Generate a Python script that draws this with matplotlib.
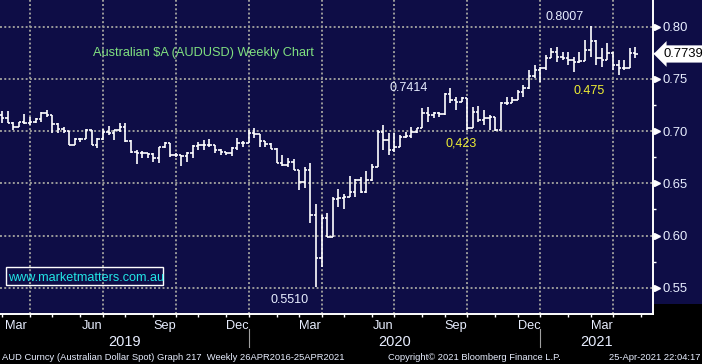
import numpy as np
import pandas as pd
import matplotlib
matplotlib.use('Agg')
import matplotlib.pyplot as plt
import matplotlib.dates as mdates
import matplotlib.transforms as mtransforms
from matplotlib.patches import Rectangle

# AUDUSD weekly bars, first bar = week ending 22 Feb 2019
open_px = [0.7150, 0.7122, 0.7080, 0.7036, 0.7084, 0.7075, 0.7090, 0.7113, 0.7176, 0.7154,
           0.7068, 0.7017, 0.7004, 0.6867, 0.6921, 0.6921, 0.7010, 0.6867, 0.6921, 0.6994,
           0.6979, 0.7010, 0.7036, 0.6908, 0.6803, 0.6793, 0.6787, 0.6781, 0.6740, 0.6845,
           0.6883, 0.6771, 0.6771, 0.6762, 0.6787, 0.6857, 0.6867, 0.6867, 0.6865, 0.6819,
           0.6803, 0.6793, 0.6835, 0.6890, 0.6889, 0.6979, 0.6972, 0.6908, 0.6876, 0.6826,
           0.6691, 0.6675, 0.6707, 0.6627, 0.6515, 0.6627, 0.6196, 0.5782, 0.6165, 0.5988,
           0.6350, 0.6357, 0.6372, 0.6420, 0.6532, 0.6420, 0.6532, 0.6659, 0.6994, 0.6915,
           0.6819, 0.6851, 0.6946, 0.6953, 0.6994, 0.7027, 0.7170, 0.7154, 0.7170, 0.7161,
           0.7352, 0.7298, 0.7282, 0.7314, 0.7027, 0.7186, 0.7106, 0.7122, 0.7138, 0.7011,
           0.7266, 0.7272, 0.7298, 0.7378, 0.7410, 0.7528, 0.7585, 0.7601, 0.7697, 0.7761,
           0.7713, 0.7697, 0.7681, 0.7665, 0.7674, 0.7777, 0.7866, 0.7697, 0.7681, 0.7745,
           0.7633, 0.7601, 0.7601, 0.7745]
high_px = [0.7195, 0.7195, 0.7090, 0.7090, 0.7164, 0.7138, 0.7122, 0.7186, 0.7202, 0.7154,
           0.7075, 0.7042, 0.7005, 0.6931, 0.6931, 0.7017, 0.7010, 0.6931, 0.7017, 0.7049,
           0.7010, 0.7075, 0.7075, 0.6915, 0.6819, 0.6812, 0.6793, 0.6787, 0.6851, 0.6898,
           0.6889, 0.6787, 0.6771, 0.6803, 0.6867, 0.6898, 0.6915, 0.6921, 0.6867, 0.6826,
           0.6803, 0.6851, 0.6931, 0.6908, 0.7010, 0.7027, 0.6975, 0.6910, 0.6883, 0.6835,
           0.6771, 0.6740, 0.6730, 0.6627, 0.6659, 0.6691, 0.6302, 0.6196, 0.6213, 0.6372,
           0.6442, 0.6398, 0.6570, 0.6538, 0.6557, 0.6618, 0.6685, 0.7010, 0.7058, 0.6979,
           0.6979, 0.6963, 0.6994, 0.7042, 0.7027, 0.7218, 0.7234, 0.7186, 0.7186, 0.7362,
           0.7414, 0.7330, 0.7330, 0.7314, 0.7234, 0.7240, 0.7202, 0.7154, 0.7138, 0.7282,
           0.7330, 0.7330, 0.7394, 0.7442, 0.7585, 0.7633, 0.7617, 0.7729, 0.7793, 0.7808,
           0.7761, 0.7761, 0.7713, 0.7761, 0.7873, 0.8007, 0.7870, 0.7793, 0.7841, 0.7761,
           0.7681, 0.7681, 0.7793, 0.7808]
low_px = [0.7075, 0.7075, 0.7010, 0.7036, 0.7065, 0.7058, 0.7075, 0.7090, 0.7138, 0.6985,
          0.6985, 0.6979, 0.6867, 0.6865, 0.6893, 0.6921, 0.6867, 0.6835, 0.6915, 0.6963,
          0.6915, 0.6994, 0.6898, 0.6787, 0.6685, 0.6740, 0.6740, 0.6707, 0.6691, 0.6835,
          0.6755, 0.6755, 0.6666, 0.6707, 0.6740, 0.6819, 0.6819, 0.6851, 0.6787, 0.6771,
          0.6771, 0.6762, 0.6819, 0.6851, 0.6889, 0.6931, 0.6851, 0.6851, 0.6826, 0.6691,
          0.6666, 0.6659, 0.6627, 0.6436, 0.6452, 0.6123, 0.5510, 0.5701, 0.5983, 0.5988,
          0.6270, 0.6251, 0.6370, 0.6372, 0.6404, 0.6410, 0.6525, 0.6653, 0.6819, 0.6771,
          0.6803, 0.6851, 0.6931, 0.6931, 0.6979, 0.7027, 0.7090, 0.7122, 0.7138, 0.7154,
          0.7266, 0.7202, 0.7282, 0.7011, 0.7027, 0.7090, 0.7058, 0.7011, 0.7004, 0.7011,
          0.7250, 0.7266, 0.7295, 0.7330, 0.7405, 0.7506, 0.7473, 0.7585, 0.7697, 0.7665,
          0.7681, 0.7633, 0.7569, 0.7649, 0.7670, 0.7713, 0.7633, 0.7617, 0.7681, 0.7585,
          0.7537, 0.7585, 0.7601, 0.7697]
close_px = [0.7122, 0.7080, 0.7036, 0.7084, 0.7075, 0.7090, 0.7113, 0.7176, 0.7154, 0.7068,
            0.7017, 0.7004, 0.6867, 0.6921, 0.6921, 0.7010, 0.6867, 0.6921, 0.6994, 0.6979,
            0.7010, 0.7036, 0.6908, 0.6803, 0.6793, 0.6787, 0.6781, 0.6740, 0.6845, 0.6883,
            0.6771, 0.6771, 0.6762, 0.6787, 0.6857, 0.6867, 0.6867, 0.6865, 0.6819, 0.6803,
            0.6793, 0.6835, 0.6890, 0.6889, 0.6979, 0.6972, 0.6908, 0.6876, 0.6826, 0.6691,
            0.6675, 0.6707, 0.6627, 0.6515, 0.6627, 0.6196, 0.5782, 0.6165, 0.5988, 0.6350,
            0.6357, 0.6372, 0.6420, 0.6532, 0.6420, 0.6532, 0.6659, 0.6994, 0.6915, 0.6819,
            0.6851, 0.6946, 0.6953, 0.6994, 0.7027, 0.7170, 0.7154, 0.7170, 0.7161, 0.7352,
            0.7298, 0.7282, 0.7314, 0.7027, 0.7186, 0.7106, 0.7122, 0.7138, 0.7011, 0.7266,
            0.7272, 0.7298, 0.7378, 0.7410, 0.7528, 0.7585, 0.7601, 0.7697, 0.7761, 0.7713,
            0.7697, 0.7681, 0.7665, 0.7674, 0.7777, 0.7866, 0.7697, 0.7681, 0.7745, 0.7633,
            0.7601, 0.7601, 0.7745, 0.7739]

y_ticks = [0.55, 0.60, 0.65, 0.70, 0.75, 0.80]
y_labels = ['0.55', '0.60', '0.65', '0.70', '0.75', '0.80']
y_minor = [0.575, 0.625, 0.675, 0.725, 0.775]
month_names = {3: 'Mar', 6: 'Jun', 9: 'Sep', 12: 'Dec'}
years = ['2019', '2020', '2021']
last_price = 0.7739

NAVY = '#0e0d46'
TXT = '#e8eeff'
plt.rcParams['font.family'] = ['Liberation Sans', 'DejaVu Sans']

weeks = pd.date_range(end='2021-04-23', periods=len(close_px), freq='W-FRI')
x = mdates.date2num(weeks)

x_left = pd.Timestamp('2019-02-19 12:00')
x_right = x_left + pd.Timedelta(days=815.4)

# month marks sit on the last weekly bar of each month
fridays = pd.date_range('2019-01-04', '2021-06-25', freq='W-FRI')
month_end = fridays[fridays.month != (fridays + pd.Timedelta(days=7)).month]
quarter_end = month_end[month_end.month.isin([3, 6, 9, 12])]
in_view = lambda d: d[(d >= x_left) & (d <= x_right)]

fig = plt.figure(figsize=(7.02, 3.64), dpi=100, facecolor='black')
fig.add_artist(Rectangle((0.93, 60/364), 0.07, 304/364, transform=fig.transFigure,
                         fc=NAVY, ec='none', zorder=-1))
ax = fig.add_axes([0, 50/364, 653/702, 314/364])
ax.set_facecolor(NAVY)
ax.set_axisbelow(True)

# OHLC bars
ax.vlines(x, low_px, high_px, color='white', lw=1.2)
ax.hlines(open_px, x - 3, x, color='white', lw=1.2)
ax.hlines(close_px, x, x + 3, color='white', lw=1.2)

ax.set_xticks(mdates.date2num(in_view(quarter_end)))
ax.set_xticks(mdates.date2num(in_view(month_end)), minor=True)
ax.set_xlim(mdates.date2num(x_left), mdates.date2num(x_right))
ax.grid(True, which='major', color='#9a9a9a', lw=1.4, linestyle=(0, (1, 1.2)))
ax.tick_params(axis='x', which='both', direction='out', length=2.5, width=1,
               color='white', labelbottom=False)

ax.yaxis.tick_right()
ax.set_yticks(y_ticks)
ax.set_yticklabels(y_labels)
ax.set_yticks(y_minor, minor=True)
ax.set_ylim(0.5248, 0.8256)
ax.tick_params(axis='y', which='major', length=0, pad=7, labelsize=9.4, labelcolor=TXT)
ax.tick_params(axis='y', which='minor', length=2.5, width=1, color='white')

for s in ['top', 'left']:
    ax.spines[s].set_visible(False)
for s in ['bottom', 'right']:
    ax.spines[s].set_color('white')
    ax.spines[s].set_linewidth(1.4)

yx = mtransforms.blended_transform_factory(ax.transAxes, ax.transData)
xa = mtransforms.blended_transform_factory(ax.transData, ax.transAxes)

ax.plot([1 + 3.5/653] * len(y_ticks), y_ticks, ls='none', marker='>', ms=3.8,
        color='white', transform=yx, clip_on=False)
ax.text(1 + 10/653, last_price, f'{last_price:.4f}', transform=yx, ha='left', va='center',
        fontsize=9.4, color='black',
        bbox=dict(boxstyle='larrow,pad=0.2', fc='white', ec='none'))

# month labels centred in their month, year labels between separators
for prev, cur in zip(month_end[:-1], month_end[1:]):
    if cur.month in month_names and x_left <= cur <= x_right:
        mid = mdates.date2num(prev + (cur - prev) / 2)
        ax.text(mid, -0.0487, month_names[cur.month], transform=xa, ha='center',
                va='baseline', fontsize=9.2, color=TXT)
year_sep = [d for d in quarter_end if d.month == 12 and x_left <= d <= x_right]
bounds = [x_left] + year_sep + [x_right]
for yr, a, b in zip(years, bounds[:-1], bounds[1:]):
    ax.text(mdates.date2num(a + (b - a) / 2), -0.1019, yr, transform=xa, ha='center',
            va='baseline', fontsize=10.5, color=TXT)
for d in year_sep:
    ax.plot([mdates.date2num(d)] * 2, [-0.0487, -0.1052], color='#a0a0a0', lw=0.8,
            transform=xa, clip_on=False)

# notes on the chart
ax.text(92.5/653, (314 - 56)/314, 'Australian $A (AUDUSD) Weekly Chart', transform=ax.transAxes,
        fontsize=9.2, color='#80e080', va='baseline')
ax.text(8.3/653, (314 - 280.7)/314, 'www.marketmatters.com.au', transform=ax.transAxes,
        fontsize=9.1, color='#22e6e6', va='baseline')
ax.add_patch(Rectangle((6/653, (314 - 285.3)/314), 157/653, 18/314, transform=ax.transAxes,
                       fc='none', ec='white', lw=1))

kw = dict(textcoords='offset points', ha='center', va='center', fontsize=9)
ax.annotate('0.8007', (x[105], high_px[105]), xytext=(-18.7, 6.5), color=TXT, **kw)
ax.annotate('0.7414', (x[80], high_px[80]), xytext=(-30.4, 0), color=TXT, **kw)
ax.annotate('0.5510', (x[56], low_px[56]), xytext=(-19.3, -9.6), color=TXT, **kw)
ax.annotate('0,423', (x[83], low_px[83]), xytext=(-4.7, -9.9), color='#eeee33', **kw)
ax.annotate('0.475', (x[105], low_px[105]), xytext=(-1.2, -24.9), color='#eeee33', **kw)

fig.text(2/702, 4/364, 'AUD Curncy (Australian Dollar Spot) Graph 217  Weekly 26APR2016-25APR2021',
         fontsize=6.75, color=TXT, va='baseline')
fig.text(388/702, 4/364, 'Copyright\u00a9 2021 Bloomberg Finance L.P.', fontsize=6.75,
         color=TXT, va='baseline')
fig.text(700/702, 4/364, '25-Apr-2021 22:04:17', fontsize=6.75, color=TXT, va='baseline',
         ha='right')

fig.savefig('out.png', dpi=100, facecolor=fig.get_facecolor())
